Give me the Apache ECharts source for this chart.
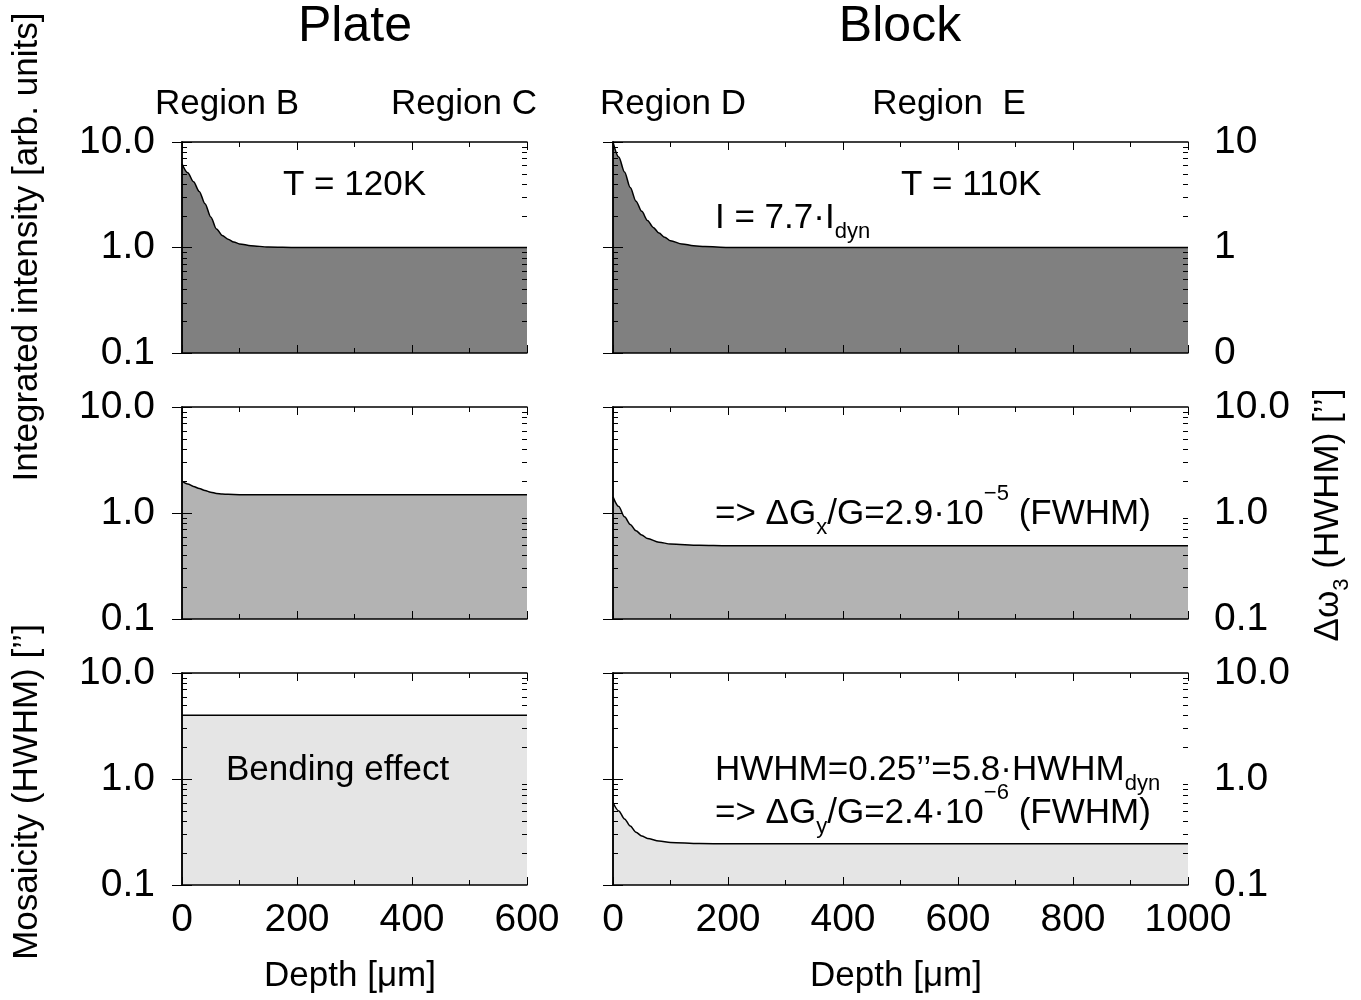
<!DOCTYPE html>
<html><head><meta charset="utf-8">
<script src="https://cdn.jsdelivr.net/npm/echarts@6/dist/echarts.min.js"></script>
<style>html,body{margin:0;padding:0;background:#fff}#c{width:1361px;height:1000px}</style>
</head><body><div id="c"></div><script>
// ---- data ----
const plateIntensityDepth = [0,10,20,30,40,50,60,70,80,90,100,120,150,200,300,400,500,600];
const plateIntensity      = [6.2,5.1,4.2,3.4,2.6,1.95,1.5,1.3,1.2,1.13,1.08,1.04,1.01,1.0,1.0,1.0,1.0,1.0];
const plateOmegaDepth     = [0,10,20,30,40,50,60,70,80,100,150,600];
const plateOmega          = [2.0,1.88,1.78,1.7,1.63,1.57,1.53,1.51,1.5,1.49,1.49,1.49];
const plateMosaicDepth    = [0,600];
const plateMosaic         = [4.0,4.0];
const blockIntensityDepth = [0,10,20,30,40,50,60,70,80,90,100,120,140,160,200,1000];
const blockIntensity      = [10,7.2,5.2,3.7,2.75,2.2,1.8,1.55,1.37,1.25,1.16,1.08,1.04,1.02,1.0,1.0];
const blockOmegaDepth     = [0,10,20,30,40,50,60,80,100,150,200,1000];
const blockOmega          = [1.42,1.15,0.92,0.78,0.68,0.62,0.575,0.53,0.51,0.495,0.49,0.49];
const blockMosaicDepth    = [0,10,20,30,40,50,60,80,100,150,200,1000];
const blockMosaic         = [0.6,0.5,0.42,0.36,0.315,0.29,0.275,0.26,0.252,0.246,0.245,0.245];

const yTickLabels        = ['0.1','1.0','10.0'];
const yTickLabelsTopRight = ['0','1','10'];
const logMinorValues = [0.2,0.3,0.4,0.5,0.6,0.7,0.8,0.9,2,3,4,5,6,7,8,9];
const plateMax = 600, blockMax = 1000, xInterval = 200;

const FONT = "'Liberation Sans', Arial, Helvetica, sans-serif";
const fills = ['#808080','#b3b3b3','#e5e5e5'];
const TICK_FS = 39;

const panels = [
  {grid:{left:182,top:142,width:345,height:211}, xMax:plateMax, depth:plateIntensityDepth, vals:plateIntensity, fill:fills[0], leftLab:yTickLabels, rightLab:null, xLab:false},
  {grid:{left:613,top:142,width:575,height:211}, xMax:blockMax, depth:blockIntensityDepth, vals:blockIntensity, fill:fills[0], leftLab:null, rightLab:yTickLabelsTopRight, xLab:false},
  {grid:{left:182,top:407,width:345,height:212}, xMax:plateMax, depth:plateOmegaDepth, vals:plateOmega, fill:fills[1], leftLab:yTickLabels, rightLab:null, xLab:false},
  {grid:{left:613,top:407,width:575,height:212}, xMax:blockMax, depth:blockOmegaDepth, vals:blockOmega, fill:fills[1], leftLab:null, rightLab:yTickLabels, xLab:false},
  {grid:{left:182,top:673,width:345,height:212}, xMax:plateMax, depth:plateMosaicDepth, vals:plateMosaic, fill:fills[2], leftLab:yTickLabels, rightLab:null, xLab:true},
  {grid:{left:613,top:673,width:575,height:212}, xMax:blockMax, depth:blockMosaicDepth, vals:blockMosaic, fill:fills[2], leftLab:null, rightLab:yTickLabels, xLab:true},
];

const grid=[], xAxis=[], yAxis=[], series=[];
const axLine = {show:true, lineStyle:{color:'#000', width:1.5}};
panels.forEach((p,i)=>{
  grid.push(p.grid);
  ['bottom','top'].forEach((pos,k)=>{
    xAxis.push({type:'value', gridIndex:i, position:pos, min:0, max:p.xMax, interval:xInterval, z:10,
      axisLine:axLine, splitLine:{show:false},
      axisTick:{show:true, inside:true, length:8, lineStyle:{color:'#000', width:1}},
      minorTick:{show:true, splitNumber:2, length:5, lineStyle:{color:'#000', width:1}},
      axisLabel:{show: k===0 && p.xLab, color:'#000', fontSize:TICK_FS, fontFamily:FONT, margin:16,
        formatter: v => String(v)}
    });
  });
  ['left','right'].forEach((pos,k)=>{
    const labs = k===0 ? p.leftLab : p.rightLab;
    yAxis.push({type:'log', logBase:10, gridIndex:i, position:pos, min:0.1, max:10, z:10,
      axisLine:axLine, splitLine:{show:false},
      axisTick:{show:true, inside:true, length:10, lineStyle:{color:'#000', width:1}},
      axisLabel:{show: !!labs, color:'#000', fontSize:TICK_FS, fontFamily:FONT, margin:k===0 ? 27 : 26,
        formatter: v => labs ? labs[Math.round(Math.log10(v))+1] : ''}
    });
  });
  series.push({type:'line', xAxisIndex:2*i, yAxisIndex:2*i, symbol:'none', smooth:0.3, smoothMonotone:'x',
    data: p.depth.map((d,j)=>[d,p.vals[j]]), z:2,
    lineStyle:{color:'#000', width:1.5}, areaStyle:{color:p.fill, opacity:1, origin:'start'}
  });
  series.push({type:'custom', xAxisIndex:2*i, yAxisIndex:2*i, z:11, clip:false, silent:true,
    data: logMinorValues.map(v=>[0,v]), encode:{x:0,y:1},
    renderItem:(params, api)=>{
      const pt = api.coord([0, api.value(1)]);
      const cs = params.coordSys;
      const y = Math.round(pt[1])+0.5;
      return {type:'group', children:[
        {type:'line', shape:{x1:cs.x, y1:y, x2:cs.x+5, y2:y}, style:{stroke:'#000', lineWidth:1}},
        {type:'line', shape:{x1:cs.x+cs.width, y1:y, x2:cs.x+cs.width-5, y2:y}, style:{stroke:'#000', lineWidth:1}}
      ]};
    }
  });
});

function txt(text, x, y, size, opts){
  opts = opts || {};
  return {type:'text', x:x, y:y, rotation: opts.rot || 0, z:20,
    style:{text:text, fontSize:size, fontFamily:FONT, fill:'#000',
      align: opts.align || 'center', verticalAlign:'middle',
      textAlign: opts.align || 'center', textVerticalAlign:'middle',
      rich: opts.rich}};
}
const richBase = (size)=>({
  m:{fontSize:size, fontFamily:FONT, fill:'#000', color:'#000'},
  sub:{fontSize:22, fontFamily:FONT, fill:'#000', color:'#000', padding:[28,0,0,0]},
  sup:{fontSize:22, fontFamily:FONT, fill:'#000', color:'#000', padding:[0,0,40,0]}
});

const graphic = [
  txt('Plate', 355, 27, 50),
  txt('Block', 900, 27, 50),
  txt('Region B', 227, 104, 35),
  txt('Region C', 464, 104, 35),
  txt('Region D', 673, 104, 35),
  txt('Region  E', 949, 104, 35),
  txt('T = 120K', 283, 185, 35, {align:'left'}),
  txt('T = 110K', 901, 185, 35, {align:'left'}),
  txt('{m|I = 7.7·I}{sub|dyn}', 715, 218, 35, {align:'left', rich:richBase(35)}),
  txt('{m|=> ΔG}{sub|x}{m|/G=2.9·10}{sup|−5}{m| (FWHM)}', 715, 514, 35, {align:'left', rich:richBase(35)}),
  txt('{m|HWHM=0.25’’=5.8·HWHM}{sub|dyn}', 715, 770, 35, {align:'left', rich:richBase(35)}),
  txt('{m|=> ΔG}{sub|y}{m|/G=2.4·10}{sup|−6}{m| (FWHM)}', 715, 813, 35, {align:'left', rich:richBase(35)}),
  txt('Bending effect', 226, 770, 35, {align:'left'}),
  txt('Depth [μm]', 350, 976, 35),
  txt('Depth [μm]', 896, 976, 35),
  txt('Integrated intensity [arb. units]', 27, 247, 35, {rot:Math.PI/2}),
  txt('Mosaicity (HWHM) [’’]', 27, 792, 35, {rot:Math.PI/2}),
  txt('{m|Δω}{sub|3}{m| (HWHM) [’’]}', 1328, 515, 35, {rot:Math.PI/2, rich:richBase(35)})
];

const chart = echarts.init(document.getElementById('c'), null, {renderer:'canvas'});
chart.setOption({animation:false, backgroundColor:'#fff', grid, xAxis, yAxis, series, graphic});
</script></body></html>
